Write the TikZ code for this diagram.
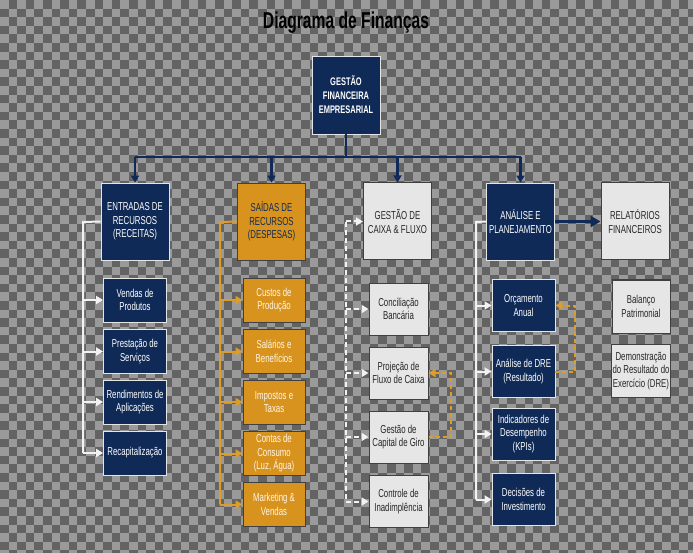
\documentclass[tikz,border=0pt]{standalone}
\usepackage{fontspec}
\setmainfont{Liberation Sans}[FakeStretch=0.68]
\usetikzlibrary{arrows.meta}
\definecolor{navy}{HTML}{0F2A57}
\definecolor{orng}{HTML}{D8931F}
\definecolor{orngl}{HTML}{DE9C28}
\definecolor{lgray}{HTML}{E6E6E6}
\definecolor{chkd}{HTML}{636363}
\definecolor{chkl}{HTML}{9A9A9A}
\definecolor{wl}{HTML}{F2F2F2}
\definecolor{cream}{HTML}{FFF6E3}
\tikzset{
  txt/.style={font=\fontsize{11.5}{13.5}\selectfont, align=center, inner sep=1pt},
  navybox/.style={txt, fill=navy, draw=white!80!gray, line width=0.8pt, text=white},
  orngbox/.style={txt, fill=orng, draw=black!75, line width=0.8pt, text=cream},
  graybox/.style={txt, fill=lgray, draw=black!75, line width=1pt, text=black!85},
  lvone/.style={minimum width=68pt, minimum height=77pt},
  navyline/.style={draw=navy, line width=2.4pt},
  wline/.style={draw=wl, line width=2pt},
  wdash/.style={draw=wl, line width=2pt, dash pattern=on 5pt off 3pt},
  oline/.style={draw=orngl, line width=2pt},
  odash/.style={draw=orngl, line width=2pt, dash pattern=on 4pt off 3pt},
  tipw/.style={-{Triangle[length=7pt,width=8pt]}},
  tipn/.style={-{Triangle[length=7pt,width=8pt]}},
}
\begin{document}
\begin{tikzpicture}[x=1pt,y=-1pt]
\useasboundingbox (0,0) rectangle (693,553);
% checkerboard background
\fill[chkl] (0,0) rectangle (693,553);
\foreach \i in {0,...,80}{
  \foreach \j in {0,...,64}{
    \pgfmathtruncatemacro{\chkpar}{mod(\i+\j,2)}
    \ifnum\chkpar=1
      \fill[chkd] (\i*8.6,\j*8.6) rectangle ++(8.6,8.6);
    \fi
  }
}
% title
\node[font=\bfseries\fontsize{23}{26}\selectfont, text=black] (title) at (346,23) {Diagrama de Finanças};
% top box
\node[navybox, font=\bfseries\fontsize{11}{14}\selectfont, minimum width=68pt, minimum height=78pt] (top) at (346,95) {GESTÃO\\FINANCEIRA\\EMPRESARIAL};
% level one
\node[navybox, lvone] (ent) at (135,221.5) {ENTRADAS DE\\RECURSOS\\(RECEITAS)};
\node[orngbox, lvone, text=navy] (sai) at (271.5,221.5) {SAÍDAS DE\\RECURSOS\\(DESPESAS)};
\node[graybox, lvone] (cx) at (397.5,221.5) {GESTÃO DE\\CAIXA \& FLUXO};
\node[navybox, lvone] (ana) at (520.5,221.5) {ANÁLISE E\\PLANEJAMENTO};
\node[graybox, lvone] (rel) at (635,221.5) {RELATÓRIOS\\FINANCEIROS};
% entradas children
\tikzset{ech/.style={navybox, minimum width=63pt, minimum height=44pt}}
\node[ech] (e1) at (135,300) {Vendas de\\Produtos};
\node[ech] (e2) at (135,351.5) {Prestação de\\Serviços};
\node[ech] (e3) at (135,402) {Rendimentos de\\Aplicações};
\node[ech] (e4) at (135,453) {Recapitalização};
% saidas children
\tikzset{sch/.style={orngbox, minimum width=62pt, minimum height=44pt}}
\node[sch] (s1) at (274,300) {Custos de\\Produção};
\node[sch] (s2) at (274,351.5) {Salários e\\Benefícios};
\node[sch] (s3) at (274,402) {Impostos e\\Taxas};
\node[sch] (s4) at (274,453.5) {Contas de\\Consumo\\(Luz, Água)};
\node[sch] (s5) at (274,504.5) {Marketing \&\\Vendas};
% caixa children
\tikzset{cch/.style={graybox, minimum width=59pt, minimum height=52pt}}
\node[cch] (c1) at (398.5,309) {Conciliação\\Bancária};
\node[cch] (c2) at (398.5,373) {Projeção de\\Fluxo de Caixa};
\node[cch] (c3) at (398.5,437) {Gestão de\\Capital de Giro};
\node[cch] (c4) at (398.5,501.5) {Controle de\\Inadimplência};
% analise children
\tikzset{ach/.style={navybox, minimum width=63pt, minimum height=52pt}}
\node[ach] (a1) at (523.5,305.5) {Orçamento\\Anual};
\node[ach] (a2) at (523.5,371.5) {Análise de DRE\\(Resultado)};
\node[ach] (a3) at (523.5,434) {Indicadores de\\Desempenho\\(KPIs)};
\node[ach] (a4) at (523.5,499.5) {Decisões de\\Investimento};
% relatorios children
\tikzset{rch/.style={graybox, minimum width=58pt, minimum height=53pt}}
\node[rch] (r1) at (641,306.5) {Balanço\\Patrimonial};
\node[rch] (r2) at (641,371) {Demonstração\\do Resultado do\\Exercício (DRE)};
% top connectors
\coordinate (bus) at (346,157);
\draw[navyline] (top.south) -- (bus);
\draw[navyline] (bus -| ent.north) -- (bus -| ana.north);
\foreach \t in {ent,sai,cx,ana}{
  \draw[navyline, tipn] (bus -| \t.north) -- (\t.north);
}
\draw[navy, line width=3pt, -{Triangle[length=10pt,width=11pt]}] (ana.east) -- (rel.west);
% entradas connector
\coordinate (ej) at (83,222);
\draw[wline] (ent.west) -- (ej) -- (ej |- e4.west);
\foreach \c in {e1,e2,e3,e4}{ \draw[wline, tipw] (ej |- \c.west) -- (\c.west); }
% saidas connector
\coordinate (sj) at (220,222);
\draw[oline] (sai.west) -- (sj) -- (sj |- s5.west);
\foreach \c in {s1,s2,s3,s4,s5}{ \draw[oline, tipw] (sj |- \c.west) -- (\c.west); }
% caixa connector
\coordinate (cj) at (346,222);
\draw[wdash] (cj) -- (cj |- c4.west);
\foreach \c in {cx,c1,c2,c3,c4}{ \draw[wdash, tipw] (cj |- \c.west) -- (\c.west); }
% analise connector
\coordinate (aj) at (476,222);
\draw[wline] (ana.west) -- (aj) -- (aj |- a4.west);
\foreach \c in {a1,a2,a3,a4}{ \draw[wline, tipw] (aj |- \c.west) -- (\c.west); }
% feedback loops
\draw[odash, tipw] (c3.east) -- ++(22,0) |- (c2.east);
\draw[odash, tipw] (a2.east) -- ++(20,0) |- (a1.east);
\end{tikzpicture}
\end{document}
